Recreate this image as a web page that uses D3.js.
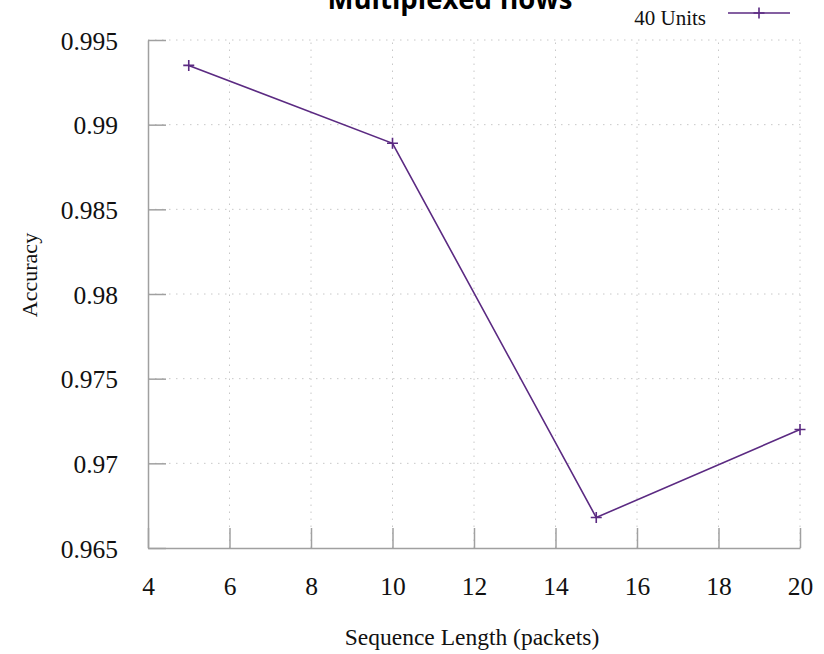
<!DOCTYPE html>
<html>
<head>
<meta charset="utf-8">
<script src="https://cdn.jsdelivr.net/npm/d3@7"></script>
<style>
  body { margin: 0; background: #fff; }
  .axis path, .axis line { stroke: #a0a0a0; stroke-width: 1.5; }
  .axis text { font-family: "Liberation Serif", serif; font-size: 25.5px; fill: #111; }
  .grid line { stroke: #c8c8c8; stroke-width: 1; stroke-dasharray: 1.5,5.5; }
</style>
</head>
<body>
<svg id="chart"></svg>
<script>
// data
var seqLen = [5, 10, 15, 20],
    accuracy = [0.9935, 0.9889, 0.9668, 0.9720],
    xTicks = [4, 6, 8, 10, 12, 14, 16, 18, 20],
    yTicks = [0.965, 0.97, 0.975, 0.98, 0.985, 0.99, 0.995],
    seriesName = "40 Units",
    title = "Multiplexed flows";

var W = 824, H = 654,
    margin = {top: 40, right: 24, bottom: 106, left: 148},
    width = W - margin.left - margin.right,
    height = H - margin.top - margin.bottom,
    color = "#5b2a82",
    plusPath = "M-5.5,0H5.5M0,-5.5V5.5";

var svg = d3.select("#chart").attr("width", W).attr("height", H),
    g = svg.append("g")
        .attr("transform", "translate(" + margin.left + "," + margin.top + ")");

var x = d3.scaleLinear().domain([4, 20]).range([0, width]),
    y = d3.scaleLinear().domain([0.965, 0.995]).range([height, 0]);

var data = seqLen.map(function(d, i) { return {x: d, y: accuracy[i]}; });

// dotted grid
g.append("g").attr("class", "grid")
    .selectAll("line").data(xTicks.slice(1)).enter().append("line")
    .attr("x1", function(d) { return x(d); })
    .attr("x2", function(d) { return x(d); })
    .attr("y1", height).attr("y2", 0);
g.append("g").attr("class", "grid")
    .selectAll("line").data(yTicks.slice(1)).enter().append("line")
    .attr("x1", 0).attr("x2", width)
    .attr("y1", function(d) { return y(d); })
    .attr("y2", function(d) { return y(d); });

// axes, ticks pointing inward
var xAxis = g.append("g").attr("class", "axis")
    .attr("transform", "translate(0," + height + ")")
    .call(d3.axisBottom(x).tickValues(xTicks).tickSize(-20).tickSizeOuter(0)
        .tickFormat(d3.format("d")));
xAxis.selectAll("text").attr("y", 47).attr("dy", 0);

var yAxis = g.append("g").attr("class", "axis")
    .call(d3.axisLeft(y).tickValues(yTicks).tickSize(-18).tickSizeOuter(0)
        .tickFormat(function(d) { return String(+d.toFixed(3)); }));
yAxis.selectAll("text").attr("x", -30).attr("dy", 0).attr("y", 9);

// line
var line = d3.line()
    .x(function(d) { return x(d.x); })
    .y(function(d) { return y(d.y); });

g.append("path")
    .datum(data)
    .attr("fill", "none")
    .attr("stroke", color)
    .attr("stroke-width", 1.6)
    .attr("d", line);

// plus markers
g.selectAll(".pt").data(data).enter().append("path")
    .attr("class", "pt")
    .attr("transform", function(d) { return "translate(" + x(d.x) + "," + y(d.y) + ")"; })
    .attr("d", plusPath)
    .attr("stroke", color)
    .attr("stroke-width", 1.6)
    .attr("fill", "none");

// axis titles
svg.append("text")
    .attr("x", 472).attr("y", 645)
    .attr("text-anchor", "middle")
    .style("font-family", "Liberation Serif, serif")
    .style("font-size", "23.5px")
    .style("fill", "#111")
    .text("Sequence Length (packets)");

svg.append("text")
    .attr("transform", "translate(37,275) rotate(-90)")
    .attr("text-anchor", "middle")
    .style("font-family", "Liberation Serif, serif")
    .style("font-size", "22px")
    .style("fill", "#111")
    .text("Accuracy");

// title (cut off at the top, as in the source)
svg.append("text")
    .attr("x", 450).attr("y", 9)
    .attr("text-anchor", "middle")
    .attr("textLength", 245)
    .attr("lengthAdjust", "spacingAndGlyphs")
    .style("font-family", "Open Sans, sans-serif")
    .style("font-weight", "bold")
    .style("font-size", "28px")
    .style("fill", "#000")
    .text(title);

// legend
var legend = svg.append("g");
legend.append("text")
    .attr("x", 706).attr("y", 25)
    .attr("text-anchor", "end")
    .style("font-family", "Liberation Serif, serif")
    .style("font-size", "21px")
    .style("fill", "#111")
    .text(seriesName);
legend.append("line")
    .attr("x1", 728).attr("x2", 790)
    .attr("y1", 13).attr("y2", 13)
    .attr("stroke", color).attr("stroke-width", 1.6);
legend.append("path")
    .attr("transform", "translate(759,13)")
    .attr("d", plusPath)
    .attr("stroke", color).attr("stroke-width", 1.6);
</script>
</body>
</html>
